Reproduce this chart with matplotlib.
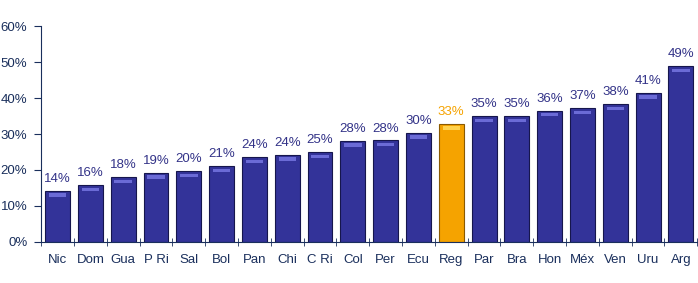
import matplotlib.pyplot as plt
import numpy as np

countries = ["Nic", "Dom", "Gua", "P Ri", "Sal", "Bol", "Pan", "Chi", "C Ri", "Col",
             "Per", "Ecu", "Reg", "Par", "Bra", "Hon", "Méx", "Ven", "Uru", "Arg"]
values = [14.2, 15.8, 18.0, 19.2, 19.7, 21.1, 23.6, 24.2, 25.0, 28.1,
          28.2, 30.3, 32.8, 35.0, 35.0, 36.5, 37.2, 38.3, 41.4, 48.9]
labels = ["14%", "16%", "18%", "19%", "20%", "21%", "24%", "24%", "25%", "28%",
          "28%", "30%", "33%", "35%", "35%", "36%", "37%", "38%", "41%", "49%"]
highlight = "Reg"

plt.rcParams['font.family'] = ['Liberation Sans', 'DejaVu Sans']
navy = "#1a2f5c"

fig = plt.figure(figsize=(6.98, 2.83), dpi=100)
ax = fig.add_axes([0.059, 0.145, 0.94, 0.763])

x = np.arange(len(countries))
colors = ["#f5a300" if c == highlight else "#333399" for c in countries]
edges = ["#8a5a00" if c == highlight else "#16164d" for c in countries]
bars = ax.bar(x, values, width=0.76, color=colors, edgecolor=edges, linewidth=0.8, zorder=2)

# light strip near the top of each bar (bevel look)
for b, c in zip(bars, countries):
  top = "#ffd24d" if c == highlight else "#6b6bd6"
  ax.bar(b.get_x() + b.get_width() / 2, 0.9, bottom=b.get_height() - 1.6,
         width=b.get_width() * 0.7, color=top, linewidth=0, zorder=3)

for xi, v, lab, c in zip(x, values, labels, countries):
  col = "#f5a300" if c == highlight else "#333388"
  ax.text(xi, v + 1.6, lab, ha="center", va="bottom", fontsize=9.5, color=col)

ax.set_xlim(-0.5, len(countries) - 0.5)
ax.set_ylim(0, 60)
ax.set_yticks(np.arange(0, 61, 10))
ax.set_yticklabels([f"{t}%" for t in range(0, 61, 10)], fontsize=9.5, color=navy)
ax.set_xticks(x)
ax.set_xticklabels(countries, fontsize=9.5, color=navy)
ax.set_xticks(np.arange(-0.5, len(countries), 1), minor=True)
ax.tick_params(axis="x", which="major", length=0, pad=9)
ax.tick_params(axis="x", which="minor", length=6, direction="inout", color=navy)
ax.tick_params(axis="y", length=5, direction="out", color=navy, pad=5)

for s in ["top", "right"]:
  ax.spines[s].set_visible(False)
for s in ["left", "bottom"]:
  ax.spines[s].set_color(navy)

fig.savefig("out.png", dpi=100)
